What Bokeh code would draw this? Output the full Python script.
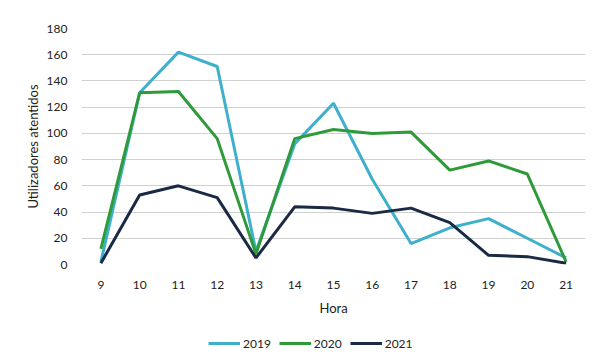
from bokeh.plotting import figure
from bokeh.layouts import column
from bokeh.models import Legend, LegendItem, Range1d, FixedTicker
from bokeh.embed import file_html
from bokeh.resources import INLINE

horas = [9, 10, 11, 12, 13, 14, 15, 16, 17, 18, 19, 20, 21]
s2019 = [2, 131, 162, 151, 10, 92, 123, 65, 16, 28, 35, 20, 5]
s2020 = [12, 131, 132, 96, 8, 96, 103, 100, 101, 72, 79, 69, 2]
s2021 = [1, 53, 60, 51, 5, 44, 43, 39, 43, 32, 7, 6, 1]
yticks = [0, 20, 40, 60, 80, 100, 120, 140, 160, 180]
series = [("2019", s2019, "#3fb0cc"), ("2020", s2020, "#2e9a3a"), ("2021", s2021, "#1a2a45")]

FONT = "Lato"

p = figure(width=590, height=318, output_backend="svg", toolbar_location=None,
           x_range=Range1d(8.5, 21.5), y_range=Range1d(0, 180),
           min_border_left=81, min_border_right=5, min_border_top=28, min_border_bottom=51)
p.outline_line_color = None
p.xgrid.grid_line_color = None
p.ygrid.grid_line_color = "#d0d0d0"
p.ygrid.grid_line_width = 1

p.yaxis.ticker = FixedTicker(ticks=yticks)
p.xaxis.ticker = FixedTicker(ticks=horas)
for ax in (p.xaxis, p.yaxis):
    ax.axis_line_color = None
    ax.major_tick_line_color = None
    ax.minor_tick_line_color = None
    ax.major_label_text_font = FONT
    ax.major_label_text_font_size = "12px"
    ax.major_label_text_color = "#222222"
    ax.axis_label_text_font = FONT
    ax.axis_label_text_font_style = "normal"
    ax.axis_label_text_font_size = "13px"
    ax.axis_label_text_color = "#222222"
p.xaxis.axis_label = "Hora"
p.yaxis.axis_label = "Utilizadores atentidos"
p.xaxis.major_label_standoff = 10
p.xaxis.axis_label_standoff = 8
p.yaxis.major_label_standoff = 8
p.yaxis.axis_label_standoff = 3

for name, vals, col in series:
    p.line(horas, vals, line_color=col, line_width=3)

# legend strip below the chart (its lines lie outside its own view)
p2 = figure(width=590, height=40, output_backend="svg", toolbar_location=None,
            x_range=Range1d(0, 1), y_range=Range1d(1000, 1001),
            min_border_left=81, min_border_right=5, min_border_top=0, min_border_bottom=0)
p2.axis.visible = False
p2.grid.grid_line_color = None
p2.outline_line_color = None
items = []
for name, vals, col in series:
    r = p2.line(horas, vals, line_color=col, line_width=3)
    items.append(LegendItem(label=name, renderers=[r]))
legend = Legend(items=items, orientation="horizontal", location=(127, 5),
                label_text_font=FONT, label_text_font_size="12px",
                label_text_color="#222222", border_line_color=None,
                background_fill_alpha=0, glyph_width=32, spacing=8,
                label_standoff=3, padding=0, margin=0)
p2.add_layout(legend, "center")

open("out.html", "w").write(file_html(column(p, p2, spacing=0), INLINE))
